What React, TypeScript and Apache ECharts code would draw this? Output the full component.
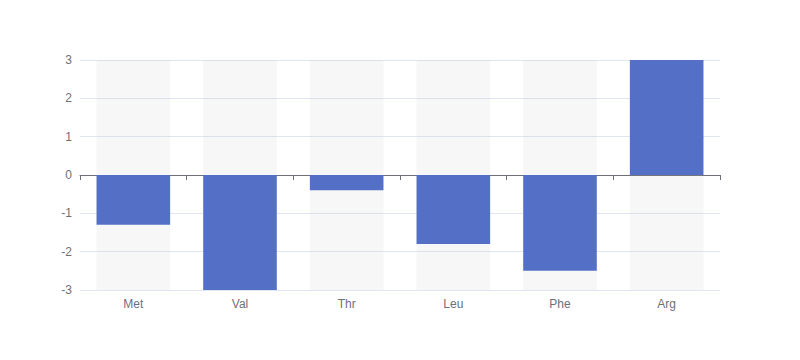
import React, { useEffect, useRef } from "react";
import * as echarts from "echarts";

const categories = ["Met", "Val", "Thr", "Leu", "Phe", "Arg"];
const values = [-1.3, -3, -0.4, -1.8, -2.5, 3];

export default function App() {
  const ref = useRef<HTMLDivElement>(null);
  useEffect(() => {
    if (!ref.current) return;
    const chart = echarts.init(ref.current, undefined, { renderer: "svg" });
    chart.setOption({
      animation: false,
      textStyle: { fontFamily: "sans-serif" },
      grid: { left: 80, right: 80, top: 60, bottom: 70 },
      xAxis: {
        type: "category",
        data: categories,
        axisLine: { show: true, lineStyle: { color: "#6E7079", width: 1 } },
        axisTick: { show: true, lineStyle: { color: "#6E7079" }, length: 5 },
        axisLabel: { margin: 8, color: "#6E7079", fontSize: 12 },
        splitLine: { show: false },
      },
      yAxis: {
        type: "value",
        min: -3,
        max: 3,
        interval: 1,
        axisLine: { show: false },
        axisTick: { show: false },
        axisLabel: { margin: 8, color: "#6E7079", fontSize: 12 },
        splitLine: { show: true, lineStyle: { color: "#E0E6F1", width: 1 } },
      },
      series: [
        {
          type: "bar",
          data: values,
          barWidth: "69%",
          showBackground: true,
          backgroundStyle: { color: "rgba(180, 180, 180, 0.1)" },
          itemStyle: { color: "#5470c6" },
        },
      ],
    });
    return () => chart.dispose();
  }, []);
  return (
    <div
      ref={ref}
      style={{ position: "absolute", left: 0, top: 0, width: 800, height: 360 }}
    />
  );
}
